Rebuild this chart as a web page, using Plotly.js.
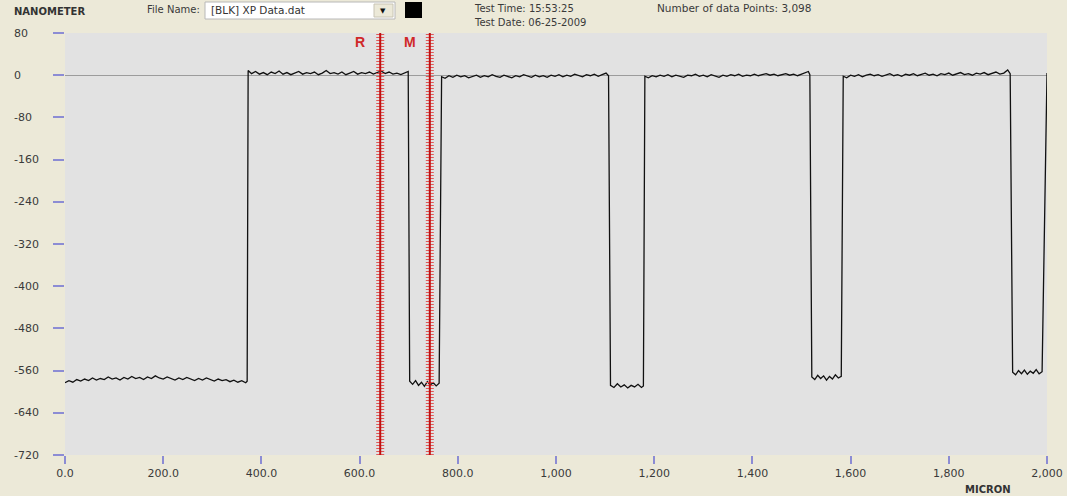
<!DOCTYPE html>
<html>
<head>
<meta charset="utf-8">
<script src="https://cdn.plot.ly/plotly-3.0.1.min.js"></script>
<style>
  html, body { margin: 0; padding: 0; background: #ece9d8; }
  #chart { width: 1067px; height: 496px; }
</style>
</head>
<body>
<div id="chart"></div>
<script>
// ---------------- DATA ----------------
const profileX = [
  0, 8, 16, 24, 32, 40, 48, 56, 64, 72, 80, 88, 96, 104, 112, 120, 128, 136, 144, 152,
  160, 168, 176, 184, 192, 200, 208, 216, 224, 232, 240, 248, 256, 264, 272, 280, 288, 296, 304, 312,
  320, 328, 336, 344, 352, 360, 368, 371,
  373, 380, 388, 396, 404, 412, 420, 428, 436, 444, 452, 460, 468, 476, 484, 492, 500, 508, 516, 524,
  532, 540, 548, 556, 564, 572, 580, 588, 596, 604, 612, 620, 628, 636, 644, 652, 660, 668, 676, 684,
  692, 699,
  702, 708, 714, 720, 726, 732, 738, 744, 750, 756, 762,
  767, 774, 782, 790, 798, 806, 814, 822, 830, 838, 846, 854, 862, 870, 878, 886, 894, 902, 910, 918,
  926, 934, 942, 950, 958, 966, 974, 982, 990, 998, 1006, 1014, 1022, 1030, 1038, 1046, 1054, 1062, 1070, 1078,
  1086, 1094, 1102, 1107,
  1111, 1118, 1125, 1132, 1139, 1146, 1153, 1160, 1167, 1174, 1178,
  1181, 1188, 1196, 1204, 1212, 1220, 1228, 1236, 1244, 1252, 1260, 1268, 1276, 1284, 1292, 1300, 1308, 1316, 1324, 1332,
  1340, 1348, 1356, 1364, 1372, 1380, 1388, 1396, 1404, 1412, 1420, 1428, 1436, 1444, 1452, 1460, 1468, 1476, 1484, 1492,
  1500, 1508, 1514, 1517,
  1521, 1527, 1533, 1539, 1545, 1551, 1557, 1563, 1569, 1575, 1581,
  1585, 1592, 1600, 1608, 1616, 1624, 1632, 1640, 1648, 1656, 1664, 1672, 1680, 1688, 1696, 1704, 1712, 1720, 1728, 1736,
  1744, 1752, 1760, 1768, 1776, 1784, 1792, 1800, 1808, 1816, 1824, 1832, 1840, 1848, 1856, 1864, 1872, 1880, 1888, 1896,
  1904, 1912, 1920, 1925,
  1930, 1936, 1942, 1948, 1954, 1960, 1966, 1972, 1978, 1984, 1990,
  1999, 2000
];
const profileY = [
  -583, -579, -582, -577, -580, -576, -579, -574, -578, -575, -577, -572, -576, -574, -578, -573, -576, -571, -575, -573,
  -577, -572, -575, -570, -574, -576, -572, -575, -578, -574, -577, -573, -576, -579, -575, -578, -574, -577, -580, -576,
  -579, -577, -581, -578, -582, -579, -583, -580,
  9, 3, 7, 2, 5, 1, 6, 3, 8, 2, 5, 1, 4, 7, 2, 5, 3, 6, 1, 4,
  9, 3, 5, 2, 6, 1, 4, 7, 2, 5, 3, 6, 2, 5, 8, 3, 6, 2, 4, 1,
  5, 7,
  -580, -586, -579, -588, -582, -590, -581, -587, -583, -589, -584,
  -3, -6, -1, -4, 0, -3, -1, -5, -2, 0, -4, -1, -3, 1, -2, -4, 0, -2, -5, -1,
  -3, 1, -2, -4, 0, -3, -1, -4, 0, -2, 1, -3, 0, -2, 2, -1, -3, 1, -1, 2,
  -2, 1, 4, -1,
  -588, -592, -585, -591, -587, -593, -588, -591, -586, -592, -589,
  -2, -5, -1, -3, 0, -2, 1, -3, 0, -2, -4, 0, -1, 2, -2, 0, -3, 1, -1, -4,
  0, -2, 1, -1, 2, -2, 0, -1, 2, -1, 1, 3, 0, 2, -1, 1, 3, 0, 2, -1,
  2, 4, 7, 1,
  -572, -577, -569, -575, -570, -578, -571, -576, -568, -574, -571,
  -2, -5, 0, -2, 1, -3, 0, 2, -1, 1, -2, 0, 3, -1, 1, -2, 2, 0, 3, -1,
  1, 4, 0, 2, -1, 3, 1, 4, 0, 2, 5, 1, 3, 0, 4, 2, 5, 1, 3, 6,
  2, 4, 10, 3,
  -563, -568, -560, -566, -559, -567, -561, -565, -558, -566, -562,
  -2, 4
];
const xTickVals = [0, 200, 400, 600, 800, 1000, 1200, 1400, 1600, 1800, 2000];
const xTickText = ["0.0", "200.0", "400.0", "600.0", "800.0", "1,000", "1,200", "1,400", "1,600", "1,800", "2,000"];
const yTickVals = [80, 0, -80, -160, -240, -320, -400, -480, -560, -640, -720];
const yTickText = ["80", "0", "-80", "-160", "-240", "-320", "-400", "-480", "-560", "-640", "-720"];
const cursorNames = ["R", "M"];
const cursorPos = [642, 743];

// ---------------- LAYOUT HELPERS ----------------
const L = 65, R = 20, T = 33, B = 41, W = 1067, H = 496;
const PW = W - L - R, PH = H - T - B;
const px = (x) => (x - L) / PW;
const py = (y) => (H - B - y) / PH;
const FONT = "DejaVu Sans, Verdana, sans-serif";
const TXT = "#3a3a3a";

function ann(text, x, y, opts) {
  return Object.assign({
    text: text, xref: "paper", yref: "paper", x: px(x), y: py(y),
    showarrow: false, xanchor: "left", yanchor: "middle",
    font: { family: FONT, size: 10, color: TXT }
  }, opts || {});
}

const annotations = [
  ann("<b>NANOMETER</b>", 12, 11, { font: { family: FONT, size: 10, color: "#333" } }),
  ann("File Name:", 145, 10),
  ann("[BLK] XP Data.dat", 209, 10, { font: { family: FONT, size: 10.5, color: "#333" } }),
  ann("▼", 383, 11, { xanchor: "center", font: { family: FONT, size: 7, color: "#111" } }),
  ann("Test Time: 15:53:25", 472, 8),
  ann("Test Date: 06-25-2009", 472, 22),
  ann("Number of data Points: 3,098", 655, 8, { font: { family: FONT, size: 10.5, color: TXT } }),
  ann("<b>MICRON</b>", 963, 489, { font: { family: FONT, size: 10, color: "#333" } })
];
// y tick labels (left aligned, placed on the y scale)
yTickVals.forEach((v, i) => {
  annotations.push({
    text: yTickText[i], xref: "paper", yref: "y", x: px(12), y: v,
    showarrow: false, xanchor: "left", yanchor: "middle",
    font: { family: FONT, size: 11, color: TXT }
  });
});
// cursor labels
cursorPos.forEach((v, i) => {
  annotations.push({
    text: "<b>" + cursorNames[i] + "</b>", xref: "x", yref: "paper", x: v, y: py(42),
    xshift: -20, showarrow: false, xanchor: "center", yanchor: "middle",
    font: { family: "Liberation Sans, Arial, sans-serif", size: 14, color: "#d02828" }
  });
});

const shapes = [
  // file name box
  { type: "rect", xref: "paper", yref: "paper", x0: px(205), x1: px(395), y0: py(19), y1: py(2),
    fillcolor: "#ffffff", line: { color: "#b8b8b8", width: 1 }, layer: "above" },
  { type: "rect", xref: "paper", yref: "paper", x0: px(374), x1: px(393), y0: py(17), y1: py(4),
    fillcolor: "#ece9d8", line: { color: "#c8c4b4", width: 1 }, layer: "above" },
  // black swatch
  { type: "rect", xref: "paper", yref: "paper", x0: px(405), x1: px(422), y0: py(18), y1: py(2),
    fillcolor: "#000000", line: { width: 0 }, layer: "above" }
];
cursorPos.forEach((v) => {
  shapes.push({ type: "line", xref: "x", yref: "paper", x0: v, x1: v, y0: 0, y1: 1,
    line: { color: "#e05858", width: 8, dash: "1px,2px" }, layer: "above" });
  shapes.push({ type: "line", xref: "x", yref: "paper", x0: v, x1: v, y0: 0, y1: 1,
    line: { color: "#c01010", width: 2 }, layer: "above" });
});

const data = [{
  type: "scatter", mode: "lines", x: profileX, y: profileY,
  line: { color: "#111111", width: 1.3 }, hoverinfo: "skip", showlegend: false
}];

const layout = {
  width: W, height: H,
  margin: { l: L, r: R, t: T, b: B, pad: 0 },
  paper_bgcolor: "#ece9d8",
  plot_bgcolor: "#e2e2e2",
  showlegend: false,
  font: { family: FONT, size: 11, color: TXT },
  xaxis: {
    range: [0, 2000], autorange: false, fixedrange: true,
    tickmode: "array", tickvals: xTickVals, ticktext: xTickText,
    ticks: "outside", ticklen: 8, tickwidth: 2, tickcolor: "#8c8cd4",
    showgrid: false, zeroline: false, showline: false,
    tickfont: { family: FONT, size: 11, color: TXT }
  },
  yaxis: {
    range: [-720, 80], autorange: false, fixedrange: true,
    tickmode: "array", tickvals: yTickVals,
    ticks: "outside", ticklen: 11, tickwidth: 2, tickcolor: "#8c8cd4",
    showticklabels: false,
    showgrid: false, showline: false,
    zeroline: true, zerolinecolor: "#9c9c9c", zerolinewidth: 1
  },
  annotations: annotations,
  shapes: shapes
};

Plotly.newPlot("chart", data, layout, { displayModeBar: false, staticPlot: true });
</script>
</body>
</html>
